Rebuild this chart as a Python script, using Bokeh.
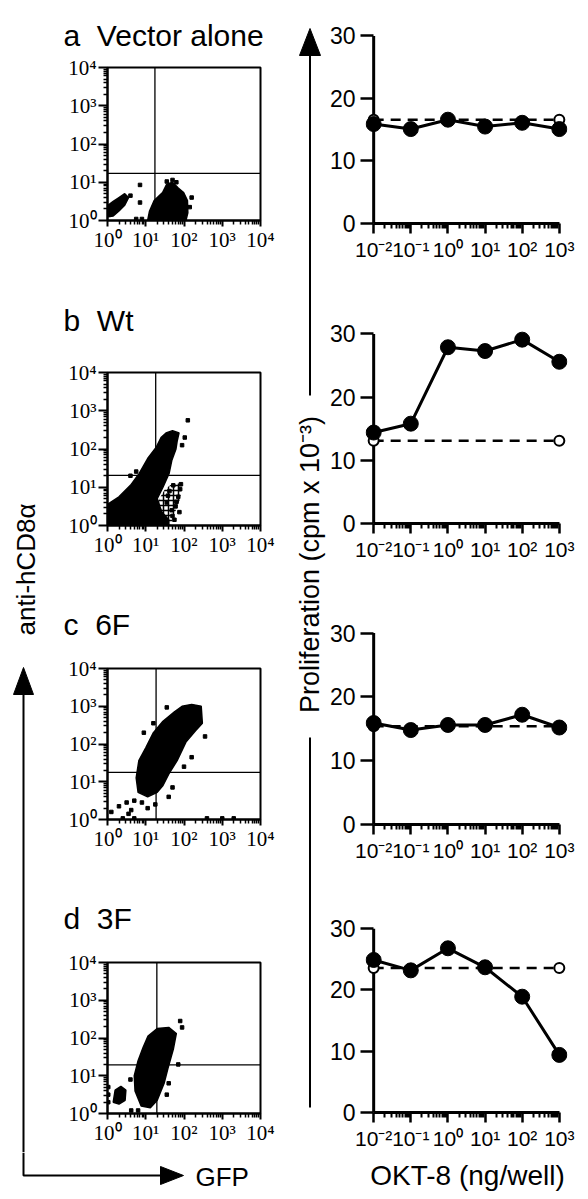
import math
from bokeh.plotting import figure
from bokeh.models import Range1d, FixedTicker, Span, CustomJSTickFormatter
from bokeh.layouts import row, column
from bokeh.embed import file_html
from bokeh.resources import INLINE
from bokeh.core.properties import value

# ---------------- data ----------------
PANEL_TITLES = ["a\u00a0\u00a0Vector alone", "b\u00a0\u00a0Wt", "c\u00a0\u00a06F", "d\u00a0\u00a03F"]

# proliferation (cpm x 10^-3) vs OKT-8 dose (ng/well)
DOSE = [0.01, 0.1, 1, 10, 100, 1000]
DOSE_TICK_LABELS = ["10⁻²", "10⁻¹", "10⁰", "10¹", "10²", "10³"]
CONTROL_DOSE = [0.01, 1000]
PROLIF_TICKS = [0, 10, 20, 30]

PROLIF_A = [15.9, 15.1, 16.6, 15.5, 16.1, 15.1]
CONTROL_A = [16.6, 16.6]
PROLIF_B = [14.4, 15.8, 27.9, 27.3, 29.1, 25.6]
CONTROL_B = [13.1, 13.1]
PROLIF_C = [15.9, 14.8, 15.6, 15.6, 17.2, 15.2]
CONTROL_C = [15.4, 15.4]
PROLIF_D = [24.9, 23.2, 26.8, 23.7, 18.9, 9.4]
CONTROL_D = [23.6, 23.6]

# flow cytometry (GFP vs anti-hCD8a), in decades (log10 of fluorescence)
FACS_TICKS = [1, 10, 100, 1000, 10000]
FACS_TICK_LABELS = ["10⁰", "10¹", "10²", "10³", "10⁴"]
GATE_X = [1.24, 1.26, 1.27, 1.29]
GATE_Y = [1.23, 1.31, 1.25, 1.29]

CLOUDS_A = [
    [(1.05, 0.0), (1.1, 0.25), (1.22, 0.52), (1.44, 0.73), (1.55, 0.95), (1.7, 1.0),
     (1.85, 0.85), (1.99, 0.73), (2.09, 0.52), (2.1, 0.2), (2.05, 0.0)],
    [(0.02, 0.1), (0.02, 0.4), (0.15, 0.5), (0.3, 0.6), (0.45, 0.7), (0.55, 0.6),
     (0.45, 0.4), (0.3, 0.25), (0.15, 0.12)],
]
SPARSE_A = []
DOTS_A = [(0.85, 0.93), (0.85, 0.47), (1.7, 1.06), (1.55, 1.02), (1.8, 1.0), (2.15, 0.35),
          (2.2, 0.6), (0.75, 0.04), (0.9, 0.04), (0.6, 0.65)]

CLOUDS_B = [
    [(0.0, 0.0), (0.0, 0.55), (0.3, 0.75), (0.6, 1.05), (0.83, 1.36), (1.05, 1.75),
     (1.27, 2.04), (1.4, 2.3), (1.53, 2.42), (1.7, 2.48), (1.87, 2.42), (1.82, 2.2),
     (1.79, 2.0), (1.68, 1.7), (1.61, 1.36), (1.45, 1.0), (1.3, 0.7), (1.42, 0.35),
     (1.6, 0.15), (1.6, 0.0)],
]
SPARSE_B = [
    [(1.3, 0.0), (1.3, 0.6), (1.5, 0.95), (1.7, 1.1), (1.95, 1.1), (1.9, 0.7),
     (1.75, 0.3), (1.65, 0.0)],
]
DOTS_B = [(1.7, 0.25), (1.78, 0.5), (1.85, 0.75), (1.9, 0.95), (1.62, 0.9), (1.55, 0.6),
          (1.68, 0.4), (1.8, 0.62), (1.48, 0.2), (1.58, 0.78), (1.72, 1.05), (1.92, 1.08),
          (1.75, 0.15), (1.88, 0.35), (2.1, 2.75), (2.02, 2.3), (0.75, 1.41), (0.6, 1.3),
          (1.95, 2.1), (1.3, 1.2)]

CLOUDS_C = [
    [(0.8, 0.72), (0.75, 1.1), (0.82, 1.56), (1.0, 1.9), (1.2, 2.3), (1.45, 2.6),
     (1.75, 2.85), (1.95, 3.0), (2.2, 3.05), (2.45, 3.0), (2.48, 2.55), (2.3, 2.35),
     (2.05, 2.05), (1.82, 1.56), (1.6, 1.2), (1.45, 0.9), (1.3, 0.72), (1.05, 0.6)],
]
SPARSE_C = []
DOTS_C = [(0.3, 0.35), (0.5, 0.45), (0.1, 0.2), (0.62, 0.25), (0.7, 0.5), (0.55, 0.15),
          (1.25, 0.4), (1.05, 0.3), (0.9, 0.45), (1.55, 2.97), (1.2, 2.55), (2.2, 1.65),
          (2.0, 1.4), (1.7, 0.85), (1.6, 0.6), (2.55, 2.2), (0.95, 2.3), (0.4, 0.03),
          (0.7, 0.03), (2.6, 0.03), (3.0, 0.03), (3.3, 0.03)]

CLOUDS_D = [
    [(0.88, 0.2), (0.72, 0.6), (0.7, 1.0), (0.8, 1.4), (0.93, 1.75), (1.06, 2.05),
     (1.3, 2.25), (1.6, 2.28), (1.8, 2.12), (1.72, 1.7), (1.58, 1.2), (1.48, 0.8),
     (1.3, 0.35), (1.12, 0.15)],
    [(0.15, 0.3), (0.2, 0.62), (0.35, 0.72), (0.48, 0.62), (0.46, 0.35), (0.3, 0.25)],
]
SPARSE_D = []
DOTS_D = [(1.9, 2.45), (1.95, 2.28), (1.6, 0.8), (1.55, 0.5), (0.62, 0.08), (0.8, 0.08),
          (0.02, 0.5), (0.02, 0.3), (0.02, 0.7), (0.6, 0.9), (1.85, 1.3)]

# ---------------- styling helpers ----------------
SANS = "Liberation Sans"
SERIF = "Liberation Serif"
INK = "black"


def tick_formatter(tick_values, tick_labels):
    return CustomJSTickFormatter(args=dict(tv=tick_values, lv=tick_labels), code="""
        for (let i = 0; i < tv.length; i++) {
            if (Math.abs(tv[i] - tick) <= 1e-9 * Math.max(1, Math.abs(tv[i]))) return lv[i];
        }
        return "";
    """)


def canvas(w, h):
    p = figure(width=w, height=h, x_range=Range1d(0, w), y_range=Range1d(h, 0),
               toolbar_location=None, output_backend="svg", min_border=0,
               x_axis_location=None, y_axis_location=None)
    p.grid.visible = False
    p.outline_line_color = None
    p.background_fill_color = "white"
    p.border_fill_color = "white"
    return p


FACS_W, FACS_LEFT, FACS_FRAME = 236, 57, 153


def facs(height, top, bottom, title, title_gap, clouds, sparse, dots, gx, gy):
    p = figure(width=FACS_W, height=height, x_axis_type="log", y_axis_type="log",
               x_range=Range1d(1, 1e4), y_range=Range1d(1, 1e4),
               toolbar_location=None, output_backend="svg",
               min_border_left=FACS_LEFT, min_border_right=FACS_W - FACS_LEFT - FACS_FRAME,
               min_border_top=top, min_border_bottom=bottom)
    p.grid.visible = False
    p.outline_line_color = INK
    p.outline_line_width = 2
    p.title.text = title
    p.title.align = "left"
    p.title.offset = -44
    p.title.standoff = title_gap
    p.title.vertical_align = "bottom"
    p.title.text_font = SANS
    p.title.text_font_size = "30px"
    p.title.text_font_style = "normal"
    p.title.text_color = INK
    minor = [m * 10 ** k for k in range(0, 4) for m in range(2, 10)]
    for ax in (p.xaxis[0], p.yaxis[0]):
        ax.ticker = FixedTicker(ticks=FACS_TICKS, minor_ticks=minor)
        ax.formatter = tick_formatter(FACS_TICKS, FACS_TICK_LABELS)
        ax.major_label_text_font = SERIF
        ax.major_label_text_font_size = "21px"
        ax.major_label_text_color = INK
        ax.axis_line_width = 2
        ax.axis_line_color = INK
        ax.major_tick_line_width = 2
        ax.major_tick_in = 0
        ax.minor_tick_in = 0
        ax.minor_tick_out = 4
        ax.minor_tick_line_width = 1.5
    p.yaxis[0].major_tick_out = 9
    p.yaxis[0].major_label_standoff = 2
    p.xaxis[0].major_tick_out = 6
    p.xaxis[0].major_label_standoff = 1

    if sparse:
        p.patches([[10 ** x for x, _ in poly] for poly in sparse],
                  [[10 ** y for _, y in poly] for poly in sparse],
                  fill_color=None, line_color=None, hatch_pattern="cross",
                  hatch_color=INK, hatch_scale=5, hatch_weight=1.5)
    xs = [[10 ** x for x, _ in poly] for poly in clouds]
    ys = [[10 ** y for _, y in poly] for poly in clouds]
    p.patches(xs, ys, fill_color=INK, line_color=INK, line_width=1.5)
    p.scatter([10 ** x for x, _ in dots], [10 ** y for _, y in dots], marker="square",
              size=3.5, fill_color=INK, line_color=INK)
    p.add_layout(Span(location=10 ** gx, dimension="height", line_color=INK, line_width=1.3))
    p.add_layout(Span(location=10 ** gy, dimension="width", line_color=INK, line_width=1.3))
    return p


PRO_W, PRO_LEFT, PRO_FRAME = 262, 37, 204


def prolif(height, top, bottom, closed, control):
    p = figure(width=PRO_W, height=height, x_axis_type="log",
               x_range=Range1d(10 ** -2.22, 10 ** 3.22), y_range=Range1d(0, 31.5),
               toolbar_location=None, output_backend="svg",
               min_border_left=PRO_LEFT, min_border_right=PRO_W - PRO_LEFT - PRO_FRAME,
               min_border_top=top, min_border_bottom=bottom)
    p.grid.visible = False
    p.outline_line_color = None
    xa = p.xaxis[0]
    ya = p.yaxis[0]
    xa.bounds = (DOSE[0], DOSE[-1])
    minor = [m * 10 ** k for k in range(-2, 3) for m in range(2, 10)]
    xa.ticker = FixedTicker(ticks=DOSE, minor_ticks=minor)
    xa.formatter = tick_formatter(DOSE, DOSE_TICK_LABELS)
    ya.ticker = FixedTicker(ticks=PROLIF_TICKS, minor_ticks=[])
    for ax in (xa, ya):
        ax.major_label_text_font = SANS
        ax.major_label_text_color = INK
        ax.axis_line_width = 3
        ax.axis_line_color = INK
        ax.major_tick_line_width = 2.5
        ax.minor_tick_in = 0
    xa.major_tick_in = 0
    xa.major_label_text_font_size = "21px"
    xa.major_tick_out = 10
    xa.minor_tick_out = 5
    xa.minor_tick_line_width = 2
    xa.major_label_standoff = 4
    # y axis: ticks reach the vertical axis line drawn at the lowest dose
    ya.major_label_text_font_size = "23px"
    ya.axis_line_color = None
    ya.major_tick_out = 5
    ya.major_tick_in = 8
    ya.major_label_standoff = 5
    p.segment(x0=[DOSE[0]], y0=[PROLIF_TICKS[0]], x1=[DOSE[0]], y1=[PROLIF_TICKS[-1]],
              line_color=INK, line_width=3)

    p.line(CONTROL_DOSE, control, line_color=INK, line_width=2.5, line_dash="10 7")
    p.scatter(CONTROL_DOSE, control, marker="circle", size=10, fill_color="white",
              line_color=INK, line_width=2)
    p.line(DOSE, closed, line_color=INK, line_width=3)
    p.scatter(DOSE, closed, marker="circle", size=15, fill_color=INK, line_color=INK)
    return p


# ---------------- left column: anti-hCD8a arrow ----------------
L = canvas(50, 1152)
L.line([23, 23], [692, 1152], line_color=INK, line_width=2)
L.patch([23, 13, 33], [667, 694, 694], fill_color=INK, line_color=INK)
L.text(x=[25], y=[569], text=["anti-hCD8α"], angle=math.pi / 2, text_font=value(SANS),
       text_font_size=value("26px"), text_align="center", text_baseline="middle",
       text_color=INK)

# ---------------- middle column: Proliferation arrow ----------------
M = canvas(40, 1152)
M.patch([23.5, 13, 34], [28, 55, 55], fill_color=INK, line_color=INK)
M.line([23.5, 23.5], [54, 395], line_color=INK, line_width=2)
M.line([23.5, 23.5], [737, 1107], line_color=INK, line_width=2)
M.text(x=[23], y=[564], text=["Proliferation (cpm x 10⁻³)"], angle=math.pi / 2,
       text_font=value(SANS), text_font_size=value("27px"), text_align="center",
       text_baseline="middle", text_color=INK)

# ---------------- flow panels ----------------
fa = facs(262, 67, 42, PANEL_TITLES[0], 31, CLOUDS_A, SPARSE_A, DOTS_A, GATE_X[0], GATE_Y[0])
fb = facs(305, 110, 42, PANEL_TITLES[1], 71, CLOUDS_B, SPARSE_B, DOTS_B, GATE_X[1], GATE_Y[1])
fc = facs(294, 101, 42, PANEL_TITLES[2], 55, CLOUDS_C, SPARSE_C, DOTS_C, GATE_X[2], GATE_Y[2])
fd = facs(291, 101, 39, PANEL_TITLES[3], 55, CLOUDS_D, SPARSE_D, DOTS_D, GATE_X[3], GATE_Y[3])
D = column(fa, fb, fc, fd)

# ---------------- proliferation panels ----------------
pa = prolif(300, 26, 77, PROLIF_A, CONTROL_A)
pb = prolif(300, 24, 77, PROLIF_B, CONTROL_B)
pc = prolif(297, 23, 73, PROLIF_C, CONTROL_C)
pd = prolif(255, 22, 38, PROLIF_D, CONTROL_D)
R = column(pa, pb, pc, pd)

# ---------------- bottom strip: GFP arrow and dose label ----------------
B = canvas(588, 45)
B.line([23, 23, 161], [0, 23, 23], line_color=INK, line_width=2)
B.patch([183, 160, 160], [23, 14, 32], fill_color=INK, line_color=INK)
B.text(x=[195], y=[24], text=["GFP"], text_font=value(SANS), text_font_size=value("26px"),
       text_align="left", text_baseline="middle", text_color=INK)
B.text(x=[467], y=[23], text=["OKT-8 (ng/well)"], text_font=value(SANS),
       text_font_size=value("28px"), text_align="center", text_baseline="middle",
       text_color=INK)

page = column(row(L, D, M, R), B)
open("out.html", "w").write(file_html(page, INLINE, title="Figure"))
